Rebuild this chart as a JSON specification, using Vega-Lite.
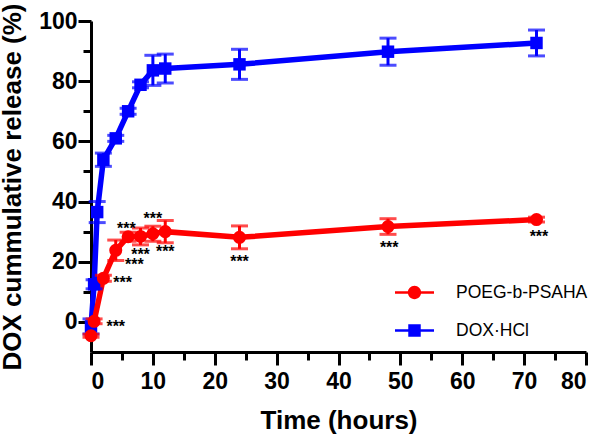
{
  "$schema": "https://vega.github.io/schema/vega-lite/v6.json",
  "width": 495,
  "height": 331,
  "autosize": {"type": "none"},
  "padding": {"left": 91, "top": 21, "right": 14, "bottom": 83},
  "background": "white",
  "config": {
    "view": {"stroke": null},
    "axis": {
      "grid": false,
      "domainColor": "black",
      "domainWidth": 3,
      "tickColor": "black",
      "tickWidth": 3,
      "labelColor": "black",
      "labelFont": "Liberation Sans",
      "labelFontWeight": "bold",
      "labelFontSize": 23,
      "titleColor": "black",
      "titleFont": "Liberation Sans",
      "titleFontWeight": "bold",
      "titleFontSize": 26
    }
  },
  "data": {
    "values": [
      {"series": "DOX·HCl", "time": 0, "release": -1.5, "err": 2.5},
      {"series": "DOX·HCl", "time": 0.5, "release": 12.5, "err": 1.5},
      {"series": "DOX·HCl", "time": 1, "release": 36.5, "err": 3.5},
      {"series": "DOX·HCl", "time": 2, "release": 53.9, "err": 2.2},
      {"series": "DOX·HCl", "time": 4, "release": 61, "err": 1},
      {"series": "DOX·HCl", "time": 6, "release": 70, "err": 1},
      {"series": "DOX·HCl", "time": 8, "release": 78.8, "err": 1},
      {"series": "DOX·HCl", "time": 10, "release": 83.6, "err": 5},
      {"series": "DOX·HCl", "time": 12, "release": 84.2, "err": 4.8},
      {"series": "DOX·HCl", "time": 24, "release": 85.6, "err": 5},
      {"series": "DOX·HCl", "time": 48, "release": 89.8, "err": 4.5},
      {"series": "DOX·HCl", "time": 72, "release": 92.7, "err": 4.3},
      {"series": "POEG-b-PSAHA", "time": 0, "release": -4.6, "err": 0.5},
      {"series": "POEG-b-PSAHA", "time": 0.5, "release": 0.2, "err": 0.8},
      {"series": "POEG-b-PSAHA", "time": 2, "release": 14.5, "err": 1},
      {"series": "POEG-b-PSAHA", "time": 4, "release": 23.8, "err": 3.4},
      {"series": "POEG-b-PSAHA", "time": 6, "release": 28.3, "err": 1.5},
      {"series": "POEG-b-PSAHA", "time": 8, "release": 28.4, "err": 2.8},
      {"series": "POEG-b-PSAHA", "time": 10, "release": 29.3, "err": 2.5},
      {"series": "POEG-b-PSAHA", "time": 12, "release": 30, "err": 3.7},
      {"series": "POEG-b-PSAHA", "time": 24, "release": 28.1, "err": 3.8},
      {"series": "POEG-b-PSAHA", "time": 48, "release": 31.7, "err": 2.6},
      {"series": "POEG-b-PSAHA", "time": 72, "release": 34, "err": 0.8}
    ]
  },
  "resolve": {"axis": {"x": "independent", "y": "independent"}},
  "layer": [
    {
      "mark": {"type": "line", "strokeWidth": 5.5},
      "encoding": {
        "x": {
          "field": "time", "type": "quantitative",
          "scale": {"domain": [0, 80], "nice": false, "zero": false},
          "axis": {
            "orient": "bottom",
            "values": [0, 10, 20, 30, 40, 50, 60, 70, 80],
            "tickSize": 13,
            "labelPadding": 5,
            "title": "Time (hours)",
            "titleBaseline": "alphabetic",
            "titleY": 76
          }
        },
        "y": {
          "field": "release", "type": "quantitative",
          "scale": {"domain": [-10, 100], "nice": false, "zero": false},
          "axis": {
            "orient": "left",
            "values": [0, 20, 40, 60, 80, 100],
            "tickSize": 13,
            "labelPadding": 1,
            "title": "DOX cummulative release (%)",
            "titleBaseline": "alphabetic",
            "titleX": -71
          }
        },
        "color": {
          "field": "series", "type": "nominal",
          "scale": {"domain": ["POEG-b-PSAHA", "DOX·HCl"], "range": ["#ff0000", "#0000ff"]},
          "legend": {
            "title": null,
            "orient": "none",
            "legendX": 304,
            "legendY": 252,
            "padding": 0,
            "symbolSize": 1521,
            "symbolType": "M-1,-0.07L1,-0.07L1,0.07L-1,0.07Z",
            "symbolStrokeWidth": 0,
            "rowPadding": 10,
            "labelOffset": 22,
            "labelFont": "Liberation Sans",
            "labelFontSize": 17.5,
            "labelColor": "black",
            "labelBaseline": "middle",
            "encode": {
              "symbols": {
                "update": {
                  "shape": {"signal": "datum.value === 'DOX·HCl' ? 'M-1,-0.07L1,-0.07L1,0.07L-1,0.07Z M-0.32,-0.32L0.32,-0.32L0.32,0.32L-0.32,0.32Z' : 'M-1,-0.07L1,-0.07L1,0.07L-1,0.07Z M0.34,0 A0.34,0.34 0 1,1 -0.34,0 A0.34,0.34 0 1,1 0.34,0Z'"},
                  "fill": {"signal": "datum.value === 'DOX·HCl' ? '#0000ff' : '#ff0000'"},
                  "stroke": {"value": "transparent"},
                  "strokeWidth": {"value": 0},
                  "opacity": {"value": 1},
                  "fillOpacity": {"value": 1},
                  "size": {"value": 1521}
                }
              }
            }
          }
        }
      }
    },
    {
      "mark": {"type": "errorbar", "ticks": {"size": 17, "thickness": 3}, "rule": {"strokeWidth": 3}},
      "encoding": {
        "x": {"field": "time", "type": "quantitative", "axis": null},
        "y": {"field": "release", "type": "quantitative", "axis": null},
        "yError": {"field": "err"},
        "color": {"field": "series", "type": "nominal", "legend": null}
      }
    },
    {
      "transform": [{"filter": "datum.series === 'DOX·HCl'"}],
      "mark": {"type": "point", "shape": "square", "size": 155, "filled": true, "opacity": 1, "strokeWidth": 0},
      "encoding": {
        "x": {
          "field": "time", "type": "quantitative",
          "axis": {
            "orient": "bottom",
            "values": [5, 15, 25, 35, 45, 55, 65, 75],
            "tickSize": 8,
            "labels": false,
            "domain": false,
            "title": null
          }
        },
        "y": {
          "field": "release", "type": "quantitative",
          "axis": {
            "orient": "left",
            "values": [10, 30, 50, 70, 90],
            "tickSize": 8,
            "labels": false,
            "domain": false,
            "title": null
          }
        },
        "color": {"field": "series", "type": "nominal", "legend": null}
      }
    },
    {
      "transform": [{"filter": "datum.series === 'POEG-b-PSAHA'"}],
      "mark": {"type": "point", "shape": "circle", "size": 170, "filled": true, "opacity": 1, "strokeWidth": 0},
      "encoding": {
        "x": {"field": "time", "type": "quantitative", "axis": null},
        "y": {"field": "release", "type": "quantitative", "axis": null},
        "color": {"field": "series", "type": "nominal", "legend": null}
      }
    },
    {
      "data": {
        "values": [
          {"time": 4.0, "pos": -0.4},
          {"time": 5.1, "pos": 14.1},
          {"time": 7.0, "pos": 20.4},
          {"time": 5.7, "pos": 32.3},
          {"time": 8.0, "pos": 23.5},
          {"time": 10.0, "pos": 35.4},
          {"time": 12.0, "pos": 24.5},
          {"time": 24.0, "pos": 21.3},
          {"time": 48.2, "pos": 26.0},
          {"time": 72.4, "pos": 29.4}
        ]
      },
      "mark": {"type": "text", "text": "***", "font": "Liberation Sans", "fontWeight": "bold", "fontSize": 16, "color": "black", "align": "center", "baseline": "alphabetic", "dy": 9},
      "encoding": {
        "x": {"field": "time", "type": "quantitative", "axis": null},
        "y": {"field": "pos", "type": "quantitative", "axis": null}
      }
    }
  ]
}
